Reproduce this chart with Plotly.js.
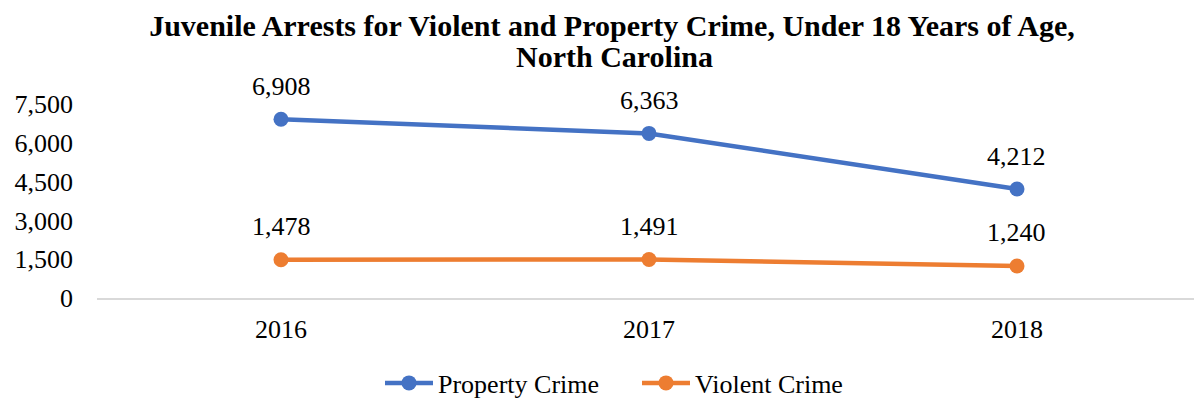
<!DOCTYPE html>
<html><head><meta charset="utf-8">
<script src="https://cdn.plot.ly/plotly-3.0.1.min.js"></script>
<style>body{margin:0;}#chart{width:1194px;height:398px;}</style>
</head><body><div id="chart"></div>
<script>
const years = ['2016', '2017', '2018'];
const propertyCrime = [6908, 6363, 4212];
const violentCrime = [1478, 1491, 1240];
const yTicks = [0, 1500, 3000, 4500, 6000, 7500];
const titleLine1 = 'Juvenile Arrests for Violent and Property Crime, Under 18 Years of Age,';
const titleLine2 = 'North Carolina';

const fmt = v => v.toLocaleString('en-US');
const fam = '"Liberation Serif", "Times New Roman", serif';
const f = size => ({family: fam, size: size, color: '#000'});

const traces = [
  {x: years, y: propertyCrime, name: 'Property Crime', type: 'scatter', mode: 'lines+markers',
   line: {color: '#4472C4', width: 4.5}, marker: {color: '#4472C4', size: 15}},
  {x: years, y: violentCrime, name: 'Violent Crime', type: 'scatter', mode: 'lines+markers',
   line: {color: '#ED7D31', width: 4.5}, marker: {color: '#ED7D31', size: 15}}
];

const annotations = [];
[propertyCrime, violentCrime].forEach(series => {
  series.forEach((v, i) => annotations.push({
    xref: 'x', yref: 'y', x: i, y: v, text: fmt(v), showarrow: false,
    xanchor: 'center', yanchor: 'middle', yshift: 33, font: f(26)
  }));
});
annotations.push({xref: 'paper', yref: 'paper', x: (614 - 97) / 1097, y: 1 + (104 - 57) / 194,
  xanchor: 'center', yanchor: 'middle', showarrow: false,
  text: '<b>' + titleLine2 + '</b>', font: f(30)});

const layout = {
  width: 1194, height: 398,
  margin: {l: 97, r: 0, t: 104, b: 100, autoexpand: false},
  paper_bgcolor: '#fff', plot_bgcolor: '#fff',
  title: {text: '<b>' + titleLine1 + '</b>', font: f(30),
    x: 612 / 1194, xref: 'container', xanchor: 'center', yref: 'container', y: 1 - 25 / 398, yanchor: 'middle'},
  xaxis: {type: 'category', range: [-0.5, 2.481], showgrid: false, zeroline: false,
    showline: true, linecolor: '#d9d9d9', linewidth: 2, ticks: '',
    tickfont: f(26), ticklabelstandoff: 7},
  yaxis: {range: [0, 7500], tickvals: yTicks, ticktext: yTicks.map(fmt), showgrid: false,
    zeroline: false, showline: false, ticks: '', tickfont: f(26),
    ticklabelstandoff: 23},
  showlegend: true,
  legend: {orientation: 'h', x: (380 - 97) / 1097, xanchor: 'left', y: -85 / 194, yanchor: 'middle',
    font: f(26), traceorder: 'normal', itemwidth: 48, entrywidth: 194, entrywidthmode: 'pixels'},
  annotations: annotations
};

Plotly.newPlot('chart', traces, layout, {displayModeBar: false, staticPlot: true});
</script></body></html>
